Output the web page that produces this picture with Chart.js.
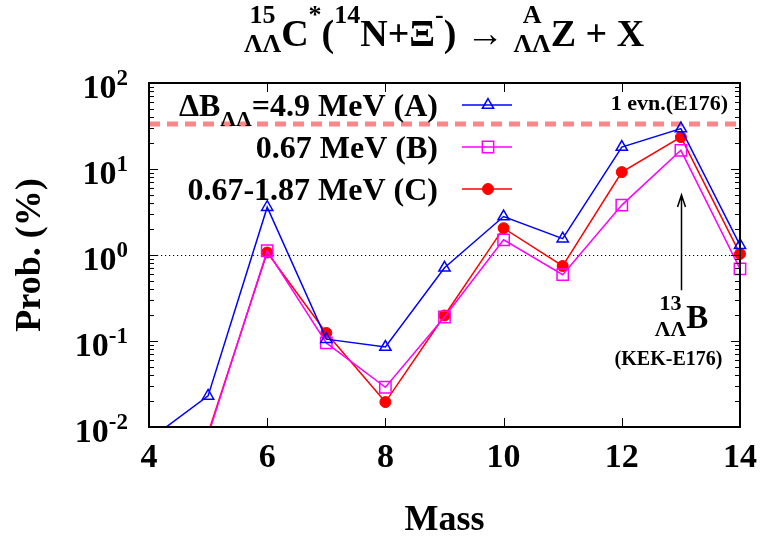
<!DOCTYPE html>
<html>
<head>
<meta charset="utf-8">
<script src="https://cdn.jsdelivr.net/npm/chart.js@4.4.1/dist/chart.umd.min.js"></script>
<style>
    html, body { margin: 0; padding: 0; background: #fff; }
    #wrap { width: 765px; height: 538px; }
</style>
</head>
<body>
<div id="wrap"><canvas id="chart" width="765" height="538"></canvas></div>
<script>
// Double-Lambda hypernuclei production probability vs. mass

const masses = [4, 5, 6, 7, 8, 9, 10, 11, 12, 13, 14];
// (A) dB_LL = 4.9 MeV
const probA = [0.0071, 0.023, 3.6, 0.105, 0.085, 0.71, 2.8, 1.55, 18, 29.5, 1.3];
// (B) 0.67 MeV
const probB = [null, 0.008, 1.12, 0.095, 0.029, 0.19, 1.5, 0.59, 3.8, 16.5, 0.69];
// (C) 0.67-1.87 MeV
const probC = [null, 0.0085, 1.07, 0.124, 0.0195, 0.198, 2.05, 0.745, 9.2, 23.5, 1.03];

const xTicks = [4, 6, 8, 10, 12, 14];
const yDecades = [0.01, 0.1, 1, 10, 100];
const yExponents = ['-2', '-1', '0', '1', '2'];

// reference lines: one event (E176) level, and 1 %
const oneEventLevel = 33.3;
const unitLevel = 1;
// arrow pointing to 13-BLL (KEK-E176)
const arrowMass = 13;
const arrowFrom = 0.39;
const arrowTo = 5;

function font(size) {
    return 'bold ' + size + 'px "Liberation Serif"';
}

// rich text runs: {t} normal text, {sup}, {sub}, {stack:[sup, sub]}
function runWidth(ctx, items, big, small) {
    let w = 0;
    items.forEach(it => {
        if (it.t !== undefined) {
            ctx.font = font(big);
            w += ctx.measureText(it.t).width;
        } else if (it.sup !== undefined) {
            ctx.font = font(small);
            w += ctx.measureText(it.sup).width;
        } else if (it.sub !== undefined) {
            ctx.font = font(small);
            w += ctx.measureText(it.sub).width;
        } else {
            ctx.font = font(small);
            w += Math.max(ctx.measureText(it.stack[0]).width, ctx.measureText(it.stack[1]).width);
        }
    });
    return w;
}

function drawRun(ctx, items, x, y, big, small, supDy, subDy) {
    ctx.textAlign = 'left';
    ctx.textBaseline = 'alphabetic';
    items.forEach(it => {
        if (it.t !== undefined) {
            ctx.font = font(big);
            ctx.fillText(it.t, x, y);
            x += ctx.measureText(it.t).width;
        } else if (it.sup !== undefined) {
            ctx.font = font(small);
            ctx.fillText(it.sup, x, y + supDy);
            x += ctx.measureText(it.sup).width;
        } else if (it.sub !== undefined) {
            ctx.font = font(small);
            ctx.fillText(it.sub, x, y + subDy);
            x += ctx.measureText(it.sub).width;
        } else {
            ctx.font = font(small);
            const w1 = ctx.measureText(it.stack[0]).width;
            const w2 = ctx.measureText(it.stack[1]).width;
            const w = Math.max(w1, w2);
            ctx.fillText(it.stack[0], x + (w - w1) / 2, y + supDy);
            ctx.fillText(it.stack[1], x + (w - w2) / 2, y + subDy);
            x += w;
        }
    });
}

const decor = {
    id: 'decor',
    beforeDatasetsDraw(chart) {
        const ctx = chart.ctx;
        const a = chart.chartArea;
        const y = chart.scales.y;
        ctx.save();
        // dotted 1 % line
        ctx.strokeStyle = '#000';
        ctx.lineWidth = 1;
        ctx.setLineDash([1.2, 2.8]);
        const y1 = Math.round(y.getPixelForValue(unitLevel)) + 0.5;
        ctx.beginPath();
        ctx.moveTo(a.left, y1);
        ctx.lineTo(a.right, y1);
        ctx.stroke();
        // dashed one-event line
        ctx.strokeStyle = 'rgb(250,135,135)';
        ctx.lineWidth = 5;
        ctx.setLineDash([11, 7]);
        const y2 = y.getPixelForValue(oneEventLevel);
        ctx.beginPath();
        ctx.moveTo(a.left, y2);
        ctx.lineTo(a.right, y2);
        ctx.stroke();
        ctx.restore();
    },
    afterDraw(chart) {
        const ctx = chart.ctx;
        const a = chart.chartArea;
        const xs = chart.scales.x;
        const ys = chart.scales.y;
        ctx.save();
        ctx.fillStyle = '#000';
        ctx.strokeStyle = '#000';

        // frame
        ctx.lineWidth = 2;
        ctx.strokeRect(a.left, a.top, a.right - a.left, a.bottom - a.top);

        // ticks
        ctx.lineWidth = 1;
        ctx.beginPath();
        xTicks.forEach(v => {
            const px = Math.round(xs.getPixelForValue(v)) + 0.5;
            ctx.moveTo(px, a.bottom); ctx.lineTo(px, a.bottom - 9);
            ctx.moveTo(px, a.top); ctx.lineTo(px, a.top + 9);
        });
        yDecades.forEach((d, i) => {
            const py = Math.round(ys.getPixelForValue(d)) + 0.5;
            ctx.moveTo(a.left, py); ctx.lineTo(a.left + 9, py);
            ctx.moveTo(a.right, py); ctx.lineTo(a.right - 9, py);
            if (i < yDecades.length - 1) {
                for (let k = 2; k <= 9; k++) {
                    const pm = Math.round(ys.getPixelForValue(d * k)) + 0.5;
                    ctx.moveTo(a.left, pm); ctx.lineTo(a.left + 5, pm);
                    ctx.moveTo(a.right, pm); ctx.lineTo(a.right - 5, pm);
                }
            }
        });
        ctx.stroke();

        // x tick labels
        ctx.font = font(34);
        ctx.textAlign = 'center';
        ctx.textBaseline = 'alphabetic';
        xTicks.forEach(v => {
            ctx.fillText(String(v), xs.getPixelForValue(v), a.bottom + 40);
        });

        // y tick labels 10^n
        yDecades.forEach((d, i) => {
            const py = ys.getPixelForValue(d);
            ctx.textAlign = 'right';
            ctx.font = font(23);
            ctx.fillText(yExponents[i], 128, py + 2);
            const ew = ctx.measureText(yExponents[i]).width;
            ctx.font = font(34);
            ctx.fillText('10', 128 - ew, py + 15);
        });

        // axis titles
        ctx.font = font(36);
        ctx.textAlign = 'center';
        ctx.fillText('Mass', (a.left + a.right) / 2, 530);
        ctx.save();
        ctx.translate(40, (a.top + a.bottom) / 2);
        ctx.rotate(-Math.PI / 2);
        ctx.fillText('Prob. (%)', 0, 0);
        ctx.restore();

        // title
        const title = [
            { stack: ['15', 'ΛΛ'] }, { t: 'C' }, { sup: '*' }, { t: '(' }, { sup: '14' },
            { t: 'N+Ξ' }, { sup: '-' }, { t: ') → ' }, { stack: ['A', 'ΛΛ'] }, { t: 'Z + X' }
        ];
        const tw = runWidth(ctx, title, 38, 26);
        drawRun(ctx, title, 444 - tw / 2, 46, 38, 26, -23, 6);

        // one-event label
        ctx.font = font(22);
        ctx.textAlign = 'right';
        ctx.fillText('1 evn.(E176)', 728, 110);

        // legend
        const legendRows = [
            [{ t: 'ΔB' }, { sub: 'ΛΛ' }, { t: '=4.9 MeV (A)' }],
            [{ t: '0.67 MeV (B)' }],
            [{ t: '0.67-1.87 MeV (C)' }]
        ];
        const rowY = [105, 147, 189];
        legendRows.forEach((row, i) => {
            const w = runWidth(ctx, row, 32, 22);
            drawRun(ctx, row, 438 - w, rowY[i] + 11, 32, 22, -12, 10);
            const ds = chart.data.datasets[i];
            ctx.save();
            ctx.strokeStyle = ds.borderColor;
            ctx.lineWidth = ds.borderWidth;
            ctx.beginPath();
            ctx.moveTo(462, rowY[i]);
            ctx.lineTo(512, rowY[i]);
            ctx.stroke();
            ctx.fillStyle = ds.pointBackgroundColor;
            ctx.strokeStyle = ds.pointBorderColor;
            ctx.lineWidth = ds.pointBorderWidth;
            Chart.helpers.drawPoint(ctx, {
                pointStyle: ds.pointStyle,
                radius: ds.pointRadius,
                borderWidth: ds.pointBorderWidth,
                rotation: 0
            }, 488, rowY[i]);
            ctx.restore();
        });

        // arrow to 13-BLL
        const ax = Math.round(xs.getPixelForValue(arrowMass)) + 0.5;
        const yFrom = ys.getPixelForValue(arrowFrom);
        const yTo = ys.getPixelForValue(arrowTo);
        ctx.lineWidth = 1.5;
        ctx.beginPath();
        ctx.moveTo(ax, yFrom);
        ctx.lineTo(ax, yTo);
        ctx.moveTo(ax - 4, yTo + 12);
        ctx.lineTo(ax, yTo);
        ctx.lineTo(ax + 4, yTo + 12);
        ctx.stroke();

        const label13 = [{ stack: ['13', 'ΛΛ'] }, { t: 'B' }];
        const lw = runWidth(ctx, label13, 33, 22);
        drawRun(ctx, label13, ax - lw / 2, 328, 33, 22, -18, 8);
        ctx.font = font(20);
        ctx.textAlign = 'center';
        ctx.fillText('(KEK-E176)', ax - 13, 365);

        ctx.restore();
    }
};

function toPoints(values) {
    return masses.map((m, i) => ({ x: m, y: values[i] }));
}

const clipBox = { left: 12, top: 12, right: 12, bottom: 0 };

new Chart(document.getElementById('chart').getContext('2d'), {
    type: 'line',
    data: {
        datasets: [{
            label: 'ΔB_ΛΛ=4.9 MeV (A)',
            data: toPoints(probA),
            borderColor: '#0000ff',
            borderWidth: 1.5,
            pointStyle: 'triangle',
            pointRadius: 6.5,
            pointBorderWidth: 1.5,
            pointBorderColor: '#0000ff',
            pointBackgroundColor: 'rgba(0,0,0,0)',
            clip: clipBox
        }, {
            label: '0.67 MeV (B)',
            data: toPoints(probB),
            borderColor: '#ff00ff',
            borderWidth: 1.5,
            pointStyle: 'rect',
            pointRadius: 8,
            pointBorderWidth: 1.5,
            pointBorderColor: '#ff00ff',
            pointBackgroundColor: 'rgba(0,0,0,0)',
            clip: clipBox
        }, {
            label: '0.67-1.87 MeV (C)',
            data: toPoints(probC),
            borderColor: '#ff0000',
            borderWidth: 1.5,
            pointStyle: 'circle',
            pointRadius: 5.5,
            pointBorderWidth: 1,
            pointBorderColor: '#ff0000',
            pointBackgroundColor: '#ff0000',
            clip: clipBox
        }]
    },
    options: {
        responsive: false,
        animation: false,
        layout: { padding: { left: 149, right: 25, top: 83, bottom: 111 } },
        scales: {
            x: { type: 'linear', min: 4, max: 14, display: false },
            y: { type: 'logarithmic', min: 0.01, max: 100, display: false }
        },
        elements: { line: { tension: 0 } },
        plugins: {
            legend: { display: false },
            tooltip: { enabled: false }
        }
    },
    plugins: [decor]
});
</script>
</body>
</html>
